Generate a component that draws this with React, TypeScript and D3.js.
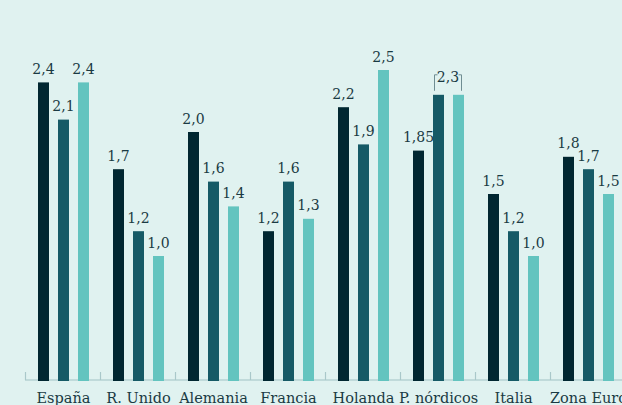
import React from 'react';
import * as d3 from 'd3';

const categories = ['España', 'R. Unido', 'Alemania', 'Francia', 'Holanda', 'P. nórdicos', 'Italia', 'Zona Euro'];
const serie1 = [2.4, 1.7, 2.0, 1.2, 2.2, 1.85, 1.5, 1.8];
const serie2 = [2.1, 1.2, 1.6, 1.6, 1.9, 2.3, 1.2, 1.7];
const serie3 = [2.4, 1.0, 1.4, 1.3, 2.5, 2.3, 1.0, 1.5];
const seriesColors = ['#012731', '#165a66', '#63c4bf'];
// labels shared by two bars (drawn once with a bracket)
const mergedLabels = [{ category: 'P. nórdicos', from: 1, to: 2 }];

const W = 622;
const H = 405;
const baseY = 380;

const fmt = (v: number) =>
  (Math.round(v * 10) === v * 10 ? v.toFixed(1) : v.toFixed(2)).replace('.', ',');

export default function App() {
  const series = [serie1, serie2, serie3];

  const x = d3.scaleBand<string>().domain(categories).range([26, 626]).padding(0);
  const xi = d3.scaleBand<number>()
    .domain([0, 1, 2])
    .range([-30, 30])
    .paddingInner(0.45)
    .paddingOuter(0.225);
  const y = d3.scaleLinear().domain([0, 2.5]).range([baseY, 70]);

  const center = (c: string) => (x(c) ?? 0) + x.bandwidth() / 2;
  const barX = (c: string, s: number) => center(c) + (xi(s) ?? 0);

  const isMerged = (c: string, s: number) =>
    mergedLabels.some(m => m.category === c && s >= m.from && s <= m.to);

  const textColor = '#1a3a43';

  return (
    <svg width={W} height={H} style={{ position: 'absolute', left: 0, top: 0, background: '#e0f2f0' }}>
      <rect x={0} y={0} width={W} height={H} fill="#e0f2f0" />

      {/* axis */}
      <line x1={25} x2={W} y1={baseY} y2={baseY} stroke="#b6d2d3" strokeWidth={1.5} />
      {categories.map((c, i) => (
        <line key={'t' + i} x1={(x(c) ?? 0) - 0.5} x2={(x(c) ?? 0) - 0.5} y1={372} y2={baseY}
          stroke="#a9c8ca" strokeWidth={1.2} />
      ))}

      {/* bars */}
      {categories.map((c, i) =>
        series.map((s, j) => (
          <rect key={`b${i}-${j}`} x={barX(c, j)} y={y(s[i])} width={xi.bandwidth()}
            height={baseY + 1 - y(s[i])} fill={seriesColors[j]} />
        ))
      )}

      {/* value labels */}
      {categories.map((c, i) =>
        series.map((s, j) =>
          isMerged(c, j) ? null : (
            <text key={`l${i}-${j}`} x={barX(c, j) + xi.bandwidth() / 2} y={y(s[i]) - 8.5}
              textAnchor="middle" fontFamily="DejaVu Serif" fontSize={14} fill={textColor}>
              {fmt(s[i])}
            </text>
          )
        )
      )}

      {/* merged labels with bracket */}
      {mergedLabels.map((m, k) => {
        const i = categories.indexOf(m.category);
        const v = Math.max(series[m.from][i], series[m.to][i]);
        const x1 = barX(m.category, m.from) + 1.5;
        const x2 = barX(m.category, m.to) + xi.bandwidth() - 2.5;
        const top = y(v) - 20;
        const bottom = y(v) - 4;
        return (
          <g key={'m' + k}>
            <path d={`M${x1 + 3},${top} H${x1} V${bottom}`} fill="none" stroke="#6f8d92" strokeWidth={1} />
            <path d={`M${x2 - 3},${top} H${x2} V${bottom}`} fill="none" stroke="#6f8d92" strokeWidth={1} />
            <text x={(x1 + x2) / 2} y={y(v) - 13} textAnchor="middle" fontFamily="DejaVu Serif"
              fontSize={14} fill={textColor}>
              {fmt(series[m.from][i])}
            </text>
          </g>
        );
      })}

      {/* category labels */}
      {categories.map((c, i) => (
        <text key={'c' + i} x={center(c)} y={402.5} textAnchor="middle" fontFamily="DejaVu Serif"
          fontSize={14.5} fill={textColor}>
          {c}
        </text>
      ))}
    </svg>
  );
}
